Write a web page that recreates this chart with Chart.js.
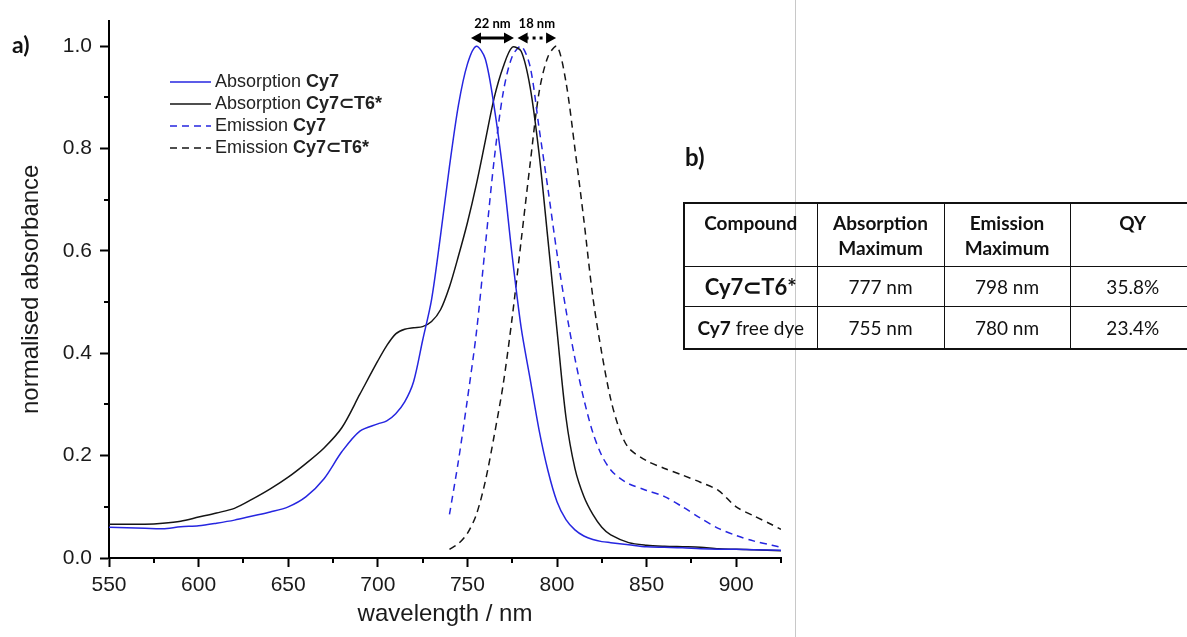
<!DOCTYPE html>
<html lang="en">
<head>
    <meta charset="UTF-8">
    <title>Cy7 absorption and emission</title>
    <script src="https://cdn.jsdelivr.net/npm/chart.js"></script>
    <style>
        body {
            margin: 0;
            width: 1187px;
            height: 637px;
            overflow: hidden;
            background: white;
            position: relative;
            font-family: 'Liberation Sans', Arial, sans-serif;
        }
        .chart-box {
            position: absolute;
            left: 0;
            top: 0;
            width: 795px;
            height: 637px;
        }
        .divider {
            position: absolute;
            left: 795px;
            top: 0;
            width: 1px;
            height: 637px;
            background: #c8c8c8;
        }
        .panel-label {
            position: absolute;
            font-family: Lato, 'Open Sans', sans-serif;
            font-weight: bold;
            color: #111;
        }
        table {
            position: absolute;
            left: 683px;
            top: 202px;
            width: 512px;
            border-collapse: collapse;
            font-family: Lato, 'Open Sans', sans-serif;
            font-size: 19px;
            color: #111;
            table-layout: fixed;
            border: 2px solid #111;
        }
        td, th {
            border: 1.5px solid #111;
            text-align: center;
            padding: 0;
        }
        th {
            vertical-align: top;
            padding-top: 6px;
            line-height: 25px;
            height: 56px;
        }
        .r1 td { height: 39px; }
        .r2 td { height: 41px; }
        .big { font-weight: bold; font-size: 22px; }
    </style>
</head>
<body>
    <div class="chart-box"><canvas id="spectra"></canvas></div>
    <div class="divider"></div>
    <div class="panel-label" style="left:12px; top:30px; font-size:23px;">a)</div>
    <div class="panel-label" style="left:685px; top:142px; font-size:24px;">b)</div>

    <table>
        <colgroup>
            <col style="width:133px"><col style="width:127px"><col style="width:126px"><col style="width:126px">
        </colgroup>
        <tr>
            <th>Compound</th>
            <th>Absorption<br>Maximum</th>
            <th>Emission<br>Maximum</th>
            <th>QY</th>
        </tr>
        <tr class="r1">
            <td class="big">Cy7⊂T6*</td>
            <td>777 nm</td>
            <td>798 nm</td>
            <td>35.8%</td>
        </tr>
        <tr class="r2">
            <td><b>Cy7</b> free dye</td>
            <td>755 nm</td>
            <td>780 nm</td>
            <td>23.4%</td>
        </tr>
    </table>

    <script>
        // wavelengths (nm) for the absorption scans
        const absWl = [550, 560, 570, 580, 590, 600, 610, 620, 630, 640, 650, 660, 670, 680, 690, 700, 705, 710, 715, 720,
            725, 730, 735, 740, 745, 750, 755, 760, 765, 770, 775, 780, 785, 790, 795, 800, 805, 810, 815, 820,
            825, 830, 840, 850, 860, 870, 880, 890, 900, 910, 925];
        const absCy7 = [0.060, 0.059, 0.058, 0.057, 0.061, 0.063, 0.068, 0.074, 0.082, 0.090, 0.100, 0.120, 0.155, 0.208, 0.248, 0.262, 0.268, 0.282, 0.305, 0.345,
            0.425, 0.505, 0.630, 0.765, 0.885, 0.965, 1.000, 0.975, 0.880, 0.750, 0.590, 0.450, 0.350, 0.250, 0.170, 0.110, 0.075, 0.055, 0.043, 0.036,
            0.032, 0.030, 0.026, 0.022, 0.021, 0.020, 0.018, 0.017, 0.017, 0.016, 0.015];
        const absCy7T6 = [0.066, 0.066, 0.066, 0.068, 0.072, 0.080, 0.088, 0.097, 0.115, 0.135, 0.158, 0.185, 0.215, 0.255, 0.320, 0.385, 0.415, 0.438, 0.447, 0.450,
            0.452, 0.462, 0.485, 0.530, 0.590, 0.655, 0.730, 0.815, 0.900, 0.960, 0.998, 0.990, 0.920, 0.790, 0.620, 0.445, 0.275, 0.175, 0.120, 0.085,
            0.060, 0.045, 0.030, 0.025, 0.023, 0.022, 0.021, 0.018, 0.017, 0.016, 0.014];

        // wavelengths (nm) for the emission scans
        const emWl = [740, 745, 750, 755, 760, 765, 770, 775, 780, 785, 790, 795, 800, 805, 810, 815, 820, 825, 830, 835,
            840, 850, 860, 870, 880, 890, 900, 910, 920, 925];
        const emCy7 = [0.085, 0.190, 0.310, 0.440, 0.610, 0.780, 0.910, 0.980, 1.000, 0.960, 0.840, 0.720, 0.595, 0.485, 0.390, 0.310, 0.245, 0.200, 0.172, 0.156,
            0.145, 0.132, 0.120, 0.100, 0.078, 0.058, 0.044, 0.033, 0.025, 0.021];
        const emCy7T6 = [0.017, 0.028, 0.048, 0.085, 0.150, 0.240, 0.340, 0.470, 0.620, 0.770, 0.910, 0.980, 1.000, 0.930, 0.800, 0.660, 0.510, 0.400, 0.310, 0.250,
            0.215, 0.190, 0.175, 0.162, 0.148, 0.132, 0.100, 0.082, 0.065, 0.056];

        const seriesNames = ['Cy7', 'Cy7⊂T6*', 'Cy7', 'Cy7⊂T6*'];
        const seriesKinds = ['Absorption ', 'Absorption ', 'Emission ', 'Emission '];

        const xTicks = [550, 600, 650, 700, 750, 800, 850, 900];
        const xMinor = [575, 625, 675, 725, 775, 825, 875, 925];
        const yMinor = [0.1, 0.3, 0.5, 0.7, 0.9];

        // shift annotations: [from nm, to nm, label]
        const shifts = [[752, 776, '22 nm'], [778, 799.5, '18 nm']];

        const BLUE = '#2626e0';
        const BLACK = '#151515';

        function pts(xs, ys) {
            return xs.map((x, i) => ({ x: x, y: ys[i] }));
        }

        // minor ticks drawn after the axes
        const minorTicks = {
            id: 'minorTicks',
            afterDraw(chart) {
                const c = chart.ctx, xs = chart.scales.x, ys = chart.scales.y;
                c.save();
                c.strokeStyle = '#000';
                c.lineWidth = 2;
                c.beginPath();
                xMinor.forEach(v => {
                    const px = Math.round(xs.getPixelForValue(v));
                    c.moveTo(px, ys.bottom);
                    c.lineTo(px, ys.bottom + 5);
                });
                yMinor.forEach(v => {
                    const py = Math.round(ys.getPixelForValue(v));
                    c.moveTo(xs.left, py);
                    c.lineTo(xs.left - 5, py);
                });
                c.stroke();
                c.restore();
            }
        };

        // legend with bold compound names
        const richLegend = {
            id: 'richLegend',
            afterDraw(chart) {
                const c = chart.ctx;
                const rows = [82, 104, 126, 148];
                c.save();
                chart.data.datasets.forEach((ds, i) => {
                    const y = rows[i];
                    c.strokeStyle = ds.borderColor;
                    c.lineWidth = 1.5;
                    c.setLineDash(ds.borderDash || []);
                    c.beginPath();
                    c.moveTo(170, y);
                    c.lineTo(211, y);
                    c.stroke();
                    c.setLineDash([]);
                    c.fillStyle = '#222';
                    c.textBaseline = 'middle';
                    c.font = '18px "Liberation Sans", Arial, sans-serif';
                    c.fillText(seriesKinds[i], 215, y);
                    const w = c.measureText(seriesKinds[i]).width;
                    c.font = 'bold 18px "Liberation Sans", Arial, sans-serif';
                    c.fillText(seriesNames[i], 215 + w, y);
                });
                c.restore();
            }
        };

        // peak shift arrows above the maxima
        const shiftArrows = {
            id: 'shiftArrows',
            afterDraw(chart) {
                const c = chart.ctx, xs = chart.scales.x;
                const y = 38;
                c.save();
                c.fillStyle = '#000';
                c.strokeStyle = '#000';
                shifts.forEach((s, i) => {
                    const x1 = xs.getPixelForValue(s[0]);
                    const x2 = xs.getPixelForValue(s[1]);
                    c.lineWidth = 3;
                    c.setLineDash(i === 0 ? [] : [3, 4]);
                    c.beginPath();
                    c.moveTo(x1 + 8, y);
                    c.lineTo(x2 - 8, y);
                    c.stroke();
                    c.setLineDash([]);
                    c.beginPath();
                    c.moveTo(x1, y); c.lineTo(x1 + 10, y - 5.5); c.lineTo(x1 + 10, y + 5.5); c.closePath();
                    c.moveTo(x2, y); c.lineTo(x2 - 10, y - 5.5); c.lineTo(x2 - 10, y + 5.5); c.closePath();
                    c.fill();
                    c.font = 'bold 13px Lato, "Open Sans", sans-serif';
                    c.textAlign = 'center';
                    c.textBaseline = 'middle';
                    c.fillText(s[2], (x1 + x2) / 2, 24);
                });
                c.restore();
            }
        };

        const tickFont = { family: '"Liberation Sans", Arial, sans-serif', size: 21 };
        const titleFont = { family: '"Liberation Sans", Arial, sans-serif', size: 24 };

        new Chart(document.getElementById('spectra'), {
            type: 'line',
            data: {
                datasets: [
                    { label: 'Absorption Cy7', data: pts(absWl, absCy7), borderColor: BLUE, borderWidth: 1.5 },
                    { label: 'Absorption Cy7⊂T6*', data: pts(absWl, absCy7T6), borderColor: BLACK, borderWidth: 1.5 },
                    { label: 'Emission Cy7', data: pts(emWl, emCy7), borderColor: BLUE, borderWidth: 1.5, borderDash: [7, 5] },
                    { label: 'Emission Cy7⊂T6*', data: pts(emWl, emCy7T6), borderColor: BLACK, borderWidth: 1.5, borderDash: [7, 5] }
                ]
            },
            options: {
                responsive: true,
                maintainAspectRatio: false,
                animation: false,
                layout: { padding: { left: 0, right: 14, top: 18, bottom: 0 } },
                elements: { point: { radius: 0 }, line: { tension: 0.3 } },
                plugins: {
                    legend: { display: false },
                    tooltip: { enabled: false }
                },
                scales: {
                    x: {
                        type: 'linear',
                        min: 550,
                        max: 925,
                        afterFit: s => { s.height = 79; },
                        afterBuildTicks: s => { s.ticks = xTicks.map(v => ({ value: v })); },
                        ticks: { color: '#1a1a1a', font: tickFont, padding: 6, maxRotation: 0 },
                        grid: { drawOnChartArea: false, tickLength: 9, tickWidth: 2, tickColor: '#000' },
                        border: { color: '#000', width: 2 },
                        title: { display: true, text: 'wavelength / nm', color: '#1a1a1a', font: titleFont, padding: { top: 4, bottom: 8 } }
                    },
                    y: {
                        min: 0,
                        max: 1.05,
                        afterFit: s => { s.width = 109; },
                        ticks: {
                            stepSize: 0.2,
                            includeBounds: false,
                            color: '#1a1a1a',
                            font: tickFont,
                            padding: 8,
                            callback: v => v.toFixed(1)
                        },
                        grid: { drawOnChartArea: false, tickLength: 9, tickWidth: 2, tickColor: '#000' },
                        border: { color: '#000', width: 2 },
                        title: { display: true, text: 'normalised absorbance', color: '#1a1a1a', font: titleFont, padding: { top: 17, bottom: 4 } }
                    }
                }
            },
            plugins: [minorTicks, richLegend, shiftArrows]
        });
    </script>
</body>
</html>
